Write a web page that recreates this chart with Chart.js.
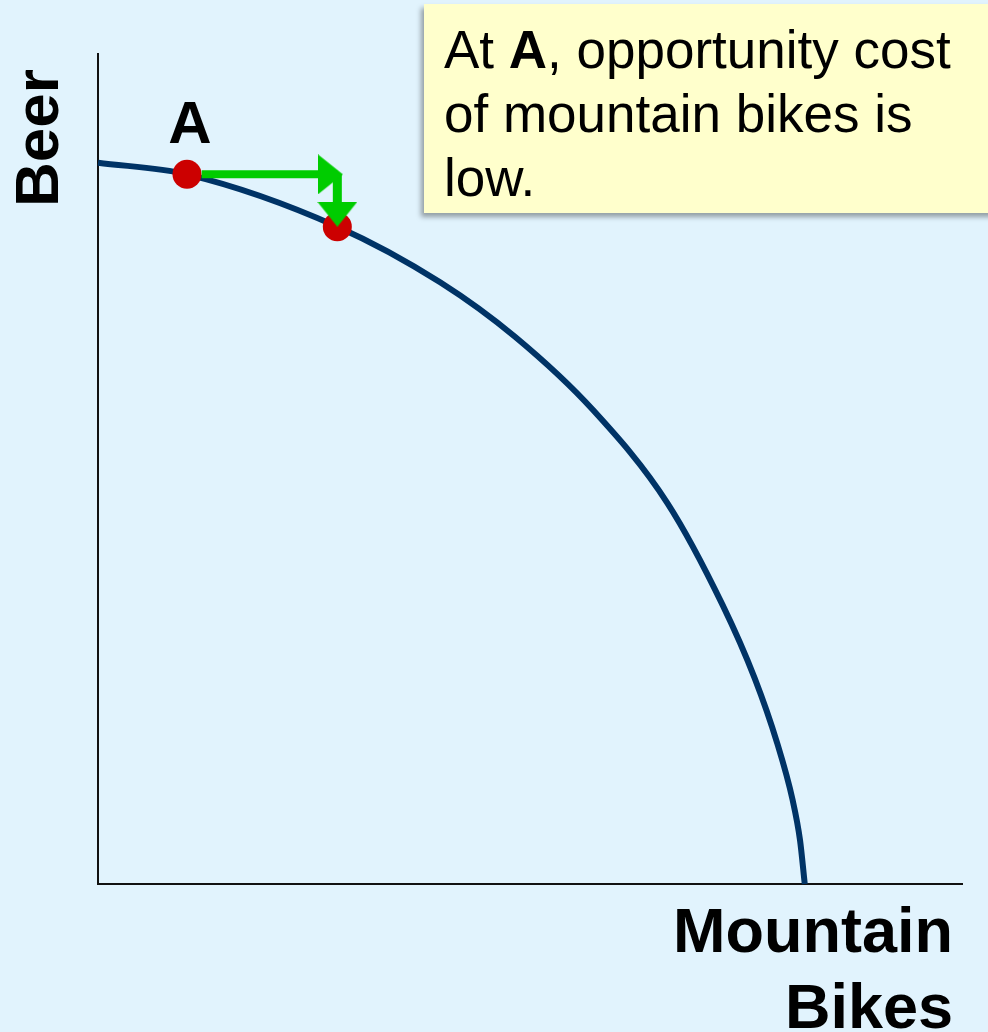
<!DOCTYPE html>
<html>
<head>
<meta charset="utf-8">
<script src="https://cdn.jsdelivr.net/npm/chart.js@4/dist/chart.umd.min.js"></script>
<style>
  html,body{margin:0;padding:0;background:#e1f3fd;overflow:hidden;}
  #wrap{position:relative;width:988px;height:1032px;}
  #note{
    position:absolute;left:424px;top:4px;width:600px;height:209px;
    background:#ffffcc;box-shadow:-3px 4px 5px rgba(0,0,0,0.35);
    font-family:"Liberation Sans",Arial,sans-serif;font-size:53px;line-height:64px;
    color:#000;box-sizing:border-box;padding:14px 0 0 20px;
  }
</style>
</head>
<body>
<div id="wrap">
  <canvas id="chart" width="988" height="1032"></canvas>
  <div id="note">At <b>A</b>, opportunity cost<br>of mountain bikes is<br>low.</div>
</div>
<script>
// PPF curve (axes 0..10)
const ppfX = [0, 1.03, 2.77, 3.96, 4.83, 5.73, 6.59, 7.23, 7.60, 7.86, 8.04, 8.125, 8.18];
const ppfY = [8.69, 8.55, 7.92, 7.25, 6.59, 5.71, 4.59, 3.36, 2.48, 1.70, 1.01, 0.53, 0];

// red points: A and the next one down the curve
const dotX = [1.03, 2.77];
const dotY = [8.55, 7.92];

// green arrow: across, then down
const arrowAcrossX = [1.2, 2.77];
const arrowAcrossY = [8.55, 8.55];
const arrowDownX = [2.77, 2.77];
const arrowDownY = [8.55, 8.1];
const headX = [2.69, 2.77];
const headY = [8.55, 8.07];

const green = "#00cc00";
const pts = (xs, ys) => xs.map((x, i) => ({x, y: ys[i]}));

// arrowhead images (right / down)
function head(dir){
  const c = document.createElement("canvas");
  const L = 25, W = 40;
  c.width = dir === "right" ? L : W;
  c.height = dir === "right" ? W : L;
  const g = c.getContext("2d");
  g.fillStyle = green;
  g.beginPath();
  if(dir === "right"){ g.moveTo(0,0); g.lineTo(L,W/2); g.lineTo(0,W); }
  else { g.moveTo(0,0); g.lineTo(W,0); g.lineTo(W/2,L); }
  g.closePath(); g.fill();
  return c;
}

const labels = {
  id: "labels",
  afterDraw(chart){
    const ctx = chart.ctx;
    ctx.save();
    ctx.fillStyle = "#000";
    ctx.font = "bold 60px 'Liberation Sans', Arial, sans-serif";
    ctx.textAlign = "center";
    ctx.textBaseline = "alphabetic";
    ctx.fillText("A", 190, 143);

    ctx.font = "bold 63px 'Liberation Sans', Arial, sans-serif";
    ctx.textAlign = "right";
    ctx.fillText("Mountain", 953, 952);
    ctx.fillText("Bikes", 953, 1028);

    ctx.font = "bold 62px 'Liberation Sans', Arial, sans-serif";
    ctx.translate(58, 138);
    ctx.rotate(-Math.PI/2);
    ctx.textAlign = "center";
    ctx.fillText("Beer", 0, 0);
    ctx.restore();
  }
};

const axis = {
  type: "linear", min: 0, max: 10,
  grid: {display: false, drawTicks: false},
  ticks: {display: false},
  border: {display: true, color: "#111", width: 2}
};

new Chart(document.getElementById("chart"), {
  type: "scatter",
  data: {
    datasets: [
      {data: pts(ppfX, ppfY), showLine: true, borderColor: "#003366", borderWidth: 6,
       pointRadius: 0, cubicInterpolationMode: "monotone", clip: false, order: 5},
      {data: pts(dotX, dotY), pointRadius: 14.5, backgroundColor: "#cc0000",
       borderWidth: 0, order: 4},
      {data: pts(arrowAcrossX, arrowAcrossY), showLine: true, borderColor: green,
       borderWidth: 8, pointRadius: 0, order: 3},
      {data: pts(arrowDownX, arrowDownY), showLine: true, borderColor: green,
       borderWidth: 9, pointRadius: 0, order: 2},
      {data: pts(headX, headY), pointStyle: [head("right"), head("down")], order: 1}
    ]
  },
  options: {
    responsive: false,
    animation: false,
    devicePixelRatio: 1,
    layout: {padding: {left: 98, right: 26, top: 54, bottom: 148}},
    plugins: {legend: {display: false}, tooltip: {enabled: false}},
    scales: {x: axis, y: axis}
  },
  plugins: [labels]
});
</script>
</body>
</html>
